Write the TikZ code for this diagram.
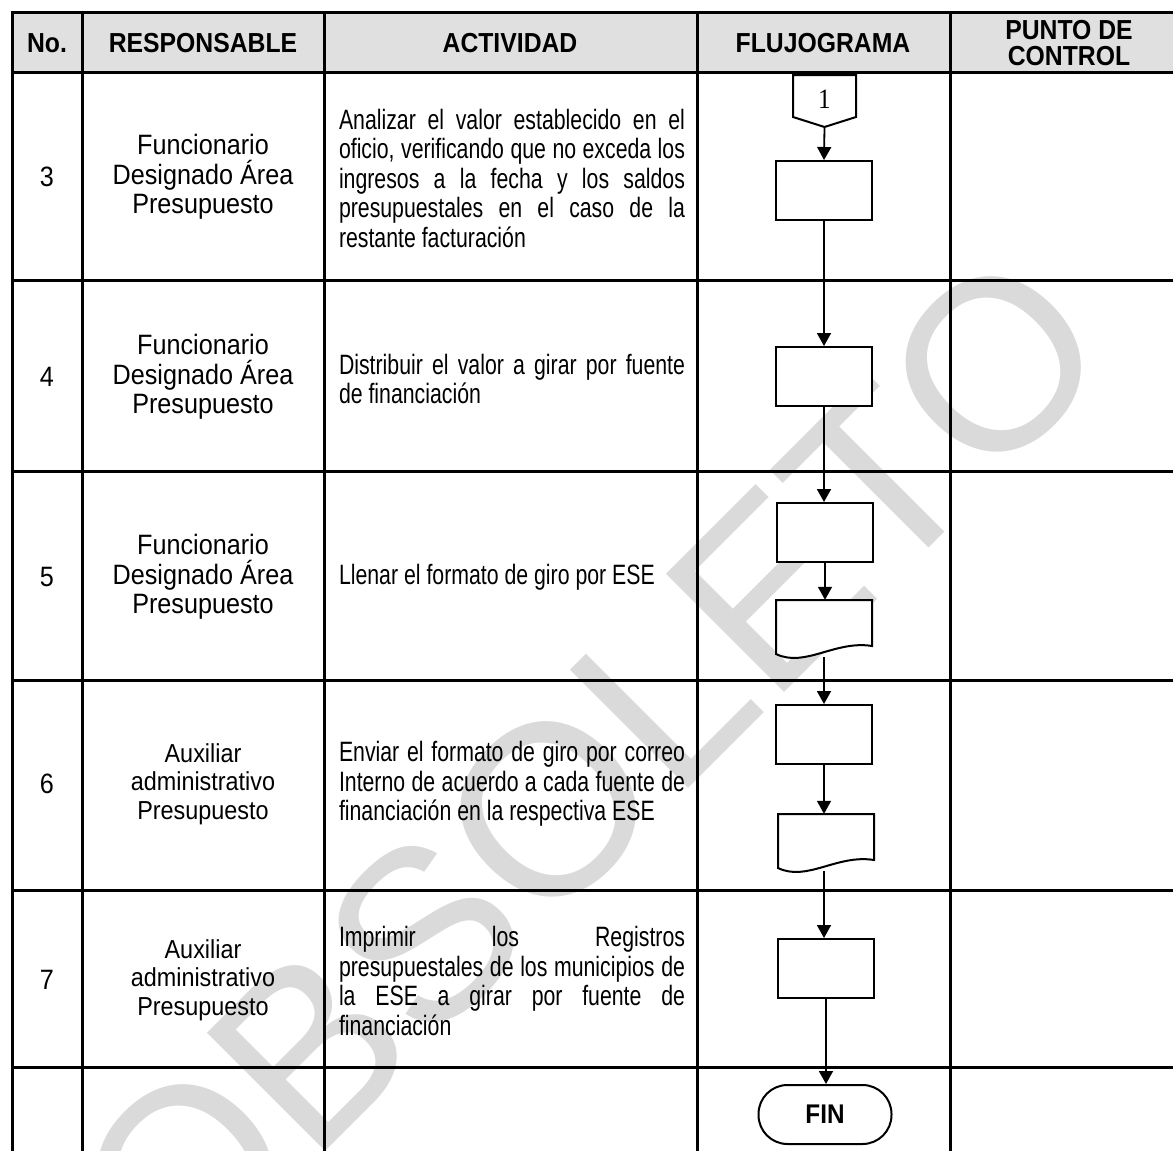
\documentclass[tikz,border=0pt]{standalone}
\usepackage{fontspec}
\setmainfont[FakeStretch=0.9]{Liberation Sans}
\newfontfamily\narrowfont[FakeStretch=0.76]{Liberation Sans}
\newfontfamily\wmfont{Liberation Sans}
\newfontfamily\seriffont[FakeStretch=0.9]{Liberation Serif}
\usetikzlibrary{arrows.meta}
\definecolor{hdrgray}{RGB}{224,224,224}
\definecolor{wmgray}{RGB}{218,218,218}
\newcommand\jline[1]{\makebox[346pt][s]{\spaceskip=0pt\relax #1}\\}
\newcommand\lline[1]{\makebox[346pt][l]{\spaceskip=0pt\relax #1}}
\tikzset{
  tline/.style={line width=3pt, line cap=rect},
  hdrtext/.style={font=\bfseries\fontsize{27.5}{25.5}\selectfont, align=center, inner sep=0pt},
  numtext/.style={font=\fontsize{28}{29.5}\selectfont, inner sep=0pt},
  resptext/.style={font=\fontsize{28}{29.5}\selectfont, align=center, inner sep=0pt},
  auxtext/.style={font=\fontsize{26}{28.5}\selectfont, align=center, inner sep=0pt},
  acttext/.style={font=\narrowfont\fontsize{28}{29.5}\selectfont, text width=346pt, align=left, inner sep=0pt},
  procbox/.style={draw, fill=white, line width=2pt, minimum width=96pt, minimum height=59pt, inner sep=0pt},
  docbox/.style={inner sep=0pt, minimum width=96pt, minimum height=54pt},
  shapeline/.style={draw, fill=white, line width=2pt},
  termbox/.style={draw, fill=white, line width=2pt, rounded corners=29pt, minimum width=133pt, minimum height=59pt, font=\bfseries\fontsize{27}{27}\selectfont},
  arr/.style={-{Triangle[width=14pt,length=13pt]}, line width=1.8pt},
  wmark/.style={font=\wmfont\fontsize{243}{243}\selectfont, text=wmgray, inner sep=0pt}
}
\begin{document}
\begin{tikzpicture}[x=1pt,y=-1pt]
\useasboundingbox (0,0) rectangle (1173,1151);
\clip (0,0) rectangle (1173,1151);
\fill[white] (0,0) rectangle (1173,1151);
% header background
\fill[hdrgray] (12,12) rectangle (1190,72);
% watermark
\node[wmark, rotate=45, anchor=base west] (wm) at (178,1299) {OBSOLETO};
% table lines
\foreach \yy in {12,72,280,471,680,890,1067}{
  \draw[tline] (12,\yy) -- (1190,\yy);
}
\foreach \xx in {12,82,324,697,950}{
  \draw[tline] (\xx,12) -- (\xx,1170);
}
% header texts
\node[hdrtext] (hno) at (47,43) {No.};
\node[hdrtext] (hresp) at (203,43) {RESPONSABLE};
\node[hdrtext] (hact) at (510,43) {ACTIVIDAD};
\node[hdrtext] (hflu) at (823,43) {FLUJOGRAMA};
\node[hdrtext] (hpc) at (1069,43) {PUNTO DE\\CONTROL};
% row 3
\node[numtext] (n3) at (47,177) {3};
\node[resptext] (r3) at (203,177) {Funcionario\\Designado Área\\Presupuesto};
\node[acttext] (a3) at (512,178) {\jline{Analizar el valor establecido en el}\jline{oficio, verificando que no exceda los}\jline{ingresos a la fecha y los saldos}\jline{presupuestales en el caso de la}\lline{restante facturación}};
% row 4
\node[numtext] (n4) at (47,377) {4};
\node[resptext] (r4) at (203,377) {Funcionario\\Designado Área\\Presupuesto};
\node[acttext] (a4) at (512,379) {\jline{Distribuir el valor a girar por fuente}\lline{de financiación}};
% row 5
\node[numtext] (n5) at (47,577) {5};
\node[resptext] (r5) at (203,577) {Funcionario\\Designado Área\\Presupuesto};
\node[acttext] (a5) at (512,577) {\lline{Llenar el formato de giro por ESE}};
% row 6
\node[numtext] (n6) at (47,784) {6};
\node[auxtext] (r6) at (203,784) {Auxiliar\\administrativo\\Presupuesto};
\node[acttext] (a6) at (512,784) {\jline{Enviar el formato de giro por correo}\jline{Interno de acuerdo a cada fuente de}\lline{financiación en la respectiva ESE}};
% row 7
\node[numtext] (n7) at (47,980) {7};
\node[auxtext] (r7) at (203,980) {Auxiliar\\administrativo\\Presupuesto};
\node[acttext] (a7) at (512,981) {\jline{Imprimir los Registros}\jline{presupuestales de los municipios de}\jline{la ESE a girar por fuente de}\lline{financiación}};
% flowchart
\draw[shapeline] (793,75) -- (856,75) -- (856,117) -- (824.5,127) -- (793,117) -- cycle;
\node[inner sep=0pt, font=\seriffont\fontsize{28}{28}\selectfont] (c1) at (824.5,99) {1};
\coordinate (c1tip) at (824.5,127);
\node[procbox] (p1) at (824,190.5) {};
\node[procbox] (p2) at (824,376.5) {};
\node[procbox] (p3) at (825,532.5) {};
\node[docbox] (d1) at (824,627) {};
\draw[shapeline] (776,654) -- (776,600) -- (872,600) -- (872,646) .. controls (835,640) and (805,668) .. (776,654) -- cycle;
\coordinate (d1b) at (824,657);
\node[procbox] (p4) at (824,734.5) {};
\node[docbox] (d2) at (826,841) {};
\draw[shapeline] (778,868) -- (778,814) -- (874,814) -- (874,860) .. controls (837,854) and (807,882) .. (778,868) -- cycle;
\coordinate (d2b) at (824,871);
\node[procbox] (p5) at (826,968.5) {};
\node[termbox] (fin) at (825,1114.5) {FIN};
% connectors
\draw[arr] (c1tip) -- (p1.north);
\draw[arr] (p1.south) -- (p2.north);
\draw[arr] (p2.south) -- (p3.north -| p2.south);
\draw[arr] (p3.south) -- (d1.north -| p3.south);
\draw[arr] (d1b) -- (p4.north -| d1b);
\draw[arr] (p4.south) -- (d2.north -| p4.south);
\draw[arr] (d2b) -- (p5.north -| d2b);
\draw[arr] (p5.south) -- (fin.north -| p5.south);
\end{tikzpicture}
\end{document}
